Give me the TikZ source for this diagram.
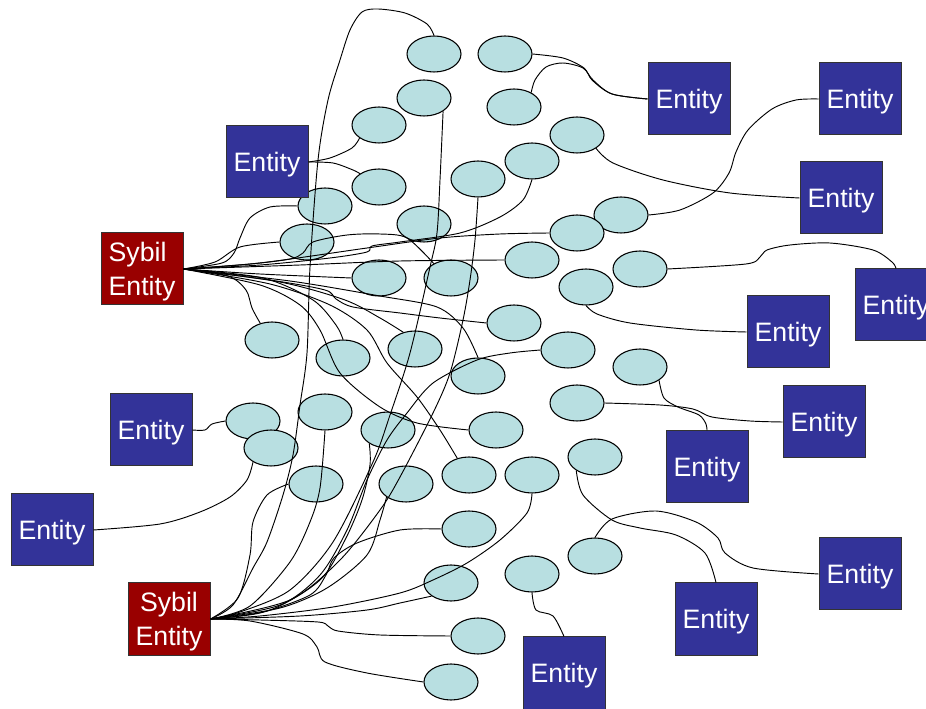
\documentclass[tikz,border=0pt]{standalone}
\usepackage{fontspec}
\setmainfont{Liberation Sans}
\usetikzlibrary{shapes.geometric}
\definecolor{entblue}{HTML}{333399}
\definecolor{sybred}{HTML}{990000}
\definecolor{peercol}{HTML}{B8DFE1}
\begin{document}
\begin{tikzpicture}[x=0.75pt,y=-0.75pt,
  entity/.style={draw=black!80, fill=entblue, text=white, minimum width=61.5pt,
    minimum height=54pt, inner sep=0pt, line width=0.75pt, text depth=0pt,
    font=\fontsize{20}{24}\selectfont},
  sybil/.style={entity, fill=sybred, align=left, font=\fontsize{20}{25}\selectfont},
  peer/.style={ellipse, draw=black, fill=peercol, minimum width=40.5pt,
    minimum height=27pt, inner sep=0pt, line width=0.8pt},
  link/.style={draw=black, line width=0.7pt}]
\useasboundingbox (0,0) rectangle (926,709);

% ordinary peers
\foreach \n/\x/\y in {
  1/434/54, 2/505/54, 3/424/98, 4/514/107, 5/379/125, 6/577/135, 7/532/161,
  8/379/187, 9/478/179, 10/325/206, 11/424/224, 12/621/215, 13/307/242,
  14/577/233, 15/532/260, 16/379/278, 17/451/278, 18/640/269, 19/586/287,
  20/272/340, 21/514/323, 22/343/358, 23/415/349, 24/568/350, 25/478/376,
  26/640/367, 27/325/412, 28/253/421, 29/388/430, 30/577/403, 31/496/430,
  32/271/448, 33/316/484, 34/406/484, 35/469/475, 36/532/475, 37/595/457,
  38/469/529, 39/451/583, 40/532/574, 41/595/556, 42/478/636, 43/451/682}
  \node[peer] (p\n) at (\x,\y) {};

% honest entities
\node[entity] (eA) at (689,99)  {Entity};
\node[entity] (eB) at (860,99)  {Entity};
\node[entity] (eC) at (841,198) {Entity};
\node[entity] (eD) at (896,305) {Entity};
\node[entity] (eE) at (788,332) {Entity};
\node[entity] (eF) at (267,162) {Entity};
\node[entity] (eG) at (151,430) {Entity};
\node[entity] (eH) at (52,530)  {Entity};
\node[entity] (eJ) at (824,422) {Entity};
\node[entity] (eK) at (707,467) {Entity};
\node[entity] (eL) at (860,574) {Entity};
\node[entity] (eM) at (716,619) {Entity};
\node[entity] (eN) at (564,673) {Entity};

% sybil entities
\node[sybil] (s1) at (142,269) {Sybil\\Entity};
\node[sybil, align=center] (s2) at (169,619) {Sybil\\Entity};

% honest entity links
\draw[link] plot[smooth] coordinates {(p2.east) (563,58) (584,68) (592,80) (612,94) (eA.west)};
\draw[link] plot[smooth] coordinates {(p4.40) (535,80) (546,67) (563,63) (583,68) (593,80) (612,94) (eA.west)};
\draw[link] plot[smooth] coordinates {(p12.east) (680,210) (713,193) (729,173) (736,152) (748,130) (772,109) (796,100) (eB.west)};
\draw[link] plot[smooth] coordinates {(p6.-35) (613,163) (663,180) (730,193) (eC.west)};
\draw[link] plot[smooth] coordinates {(p18.east) (746,264) (760,257) (767,250) (790,245) (830,243) (873,250) (892,262) (eD.north)};
\draw[link] plot[smooth] coordinates {(p19.south) (597,314) (630,323) (696,330) (eE.west)};
\draw[link] plot[smooth] coordinates {(eF.east) (330,158) (352,148) (p5.214)};
\draw[link] plot[smooth] coordinates {(eF.east) (333,163) (353,170) (p8.145)};
\draw[link] plot[smooth] coordinates {(eG.east) (205,430) (212,424) (p28.west)};
\draw[link] plot[smooth] coordinates {(p32.218) (247,480) (230,497) (200,512) (160,524) (eH.east)};
\draw[link] plot[smooth] coordinates {(p30.east) (660,405) (693,409) (712,417) (750,421) (eJ.west)};
\draw[link] plot[smooth] coordinates {(p26.-35) (664,398) (678,407) (699,415) (706,424) (eK.north)};
\draw[link] plot[smooth] coordinates {(p41.north) (612,519) (656,511) (696,522) (718,538) (725,553) (753,568) (eL.west)};
\draw[link] plot[smooth] coordinates {(p37.216) (583,495) (612,520) (640,528) (676,535) (705,553) (eM.north)};
\draw[link] plot[smooth] coordinates {(p40.south) (536,610) (553,616) (eN.north)};

% first sybil entity
\draw[link] plot[smooth] coordinates {(s1.east) (222,263) (234,253) (240,238) (250,218) (270,207) (p10.west)};
\draw[link] plot[smooth] coordinates {(s1.east) (215,262) (240,247) (p13.west)};
\draw[link] plot[smooth] coordinates {(s1.east) (260,265) (330,258) (367,252) (372,246) (400,242) (460,233) (500,217) (523,200) (p7.south)};
\draw[link] plot[smooth] coordinates {(s1.east) (260,263) (367,248) (440,238) (500,234) (p14.west)};
\draw[link] plot[smooth] coordinates {(s1.east) (250,264) (290,259) (303,253) (313,242) (347,235) (380,234) (407,238) (p17.140)};
\draw[link] plot[smooth] coordinates {(s1.east) (300,265) (400,261) (p15.west)};
\draw[link] plot[smooth] coordinates {(s1.east) (260,274) (p16.west)};
\draw[link] plot[smooth] coordinates {(s1.east) (270,280) (325,290) (336,299) (353,307) (400,313) (440,318) (p21.west)};
\draw[link] plot[smooth] coordinates {(s1.east) (290,281) (380,296) (437,307) (463,328) (p25.north)};
\draw[link] plot[smooth] coordinates {(s1.east) (228,276) (246,290) (252,308) (p20.125)};
\draw[link] plot[smooth] coordinates {(s1.east) (263,278) (313,300) (336,325) (p22.north)};
\draw[link] plot[smooth] coordinates {(s1.east) (280,282) (345,300) (380,318) (p23.125)};
\draw[link] plot[smooth] coordinates {(s1.east) (260,285) (300,305) (320,330) (340,373) (380,407) (417,423) (p31.west)};
\draw[link] plot[smooth] coordinates {(s1.east) (270,284) (330,305) (367,330) (387,363) (417,397) (440,430) (p35.125)};

% second sybil entity
\draw[link] plot[smooth] coordinates {(s2.east) (233,605) (253,568) (267,542) (283,495) (293,455) (300,405) (307,353) (310,267) (318,160) (328,100) (340,60) (350,30) (362,12) (378,9) (405,13) (427,24) (p1.north)};
\draw[link] plot[smooth] coordinates {(p3.-35) (440,180) (437,233) (430,267) (410,353) (390,415) (373,462) (333,542) (290,590) (240,612) (s2.east)};
\draw[link] plot[smooth] coordinates {(p9.south) (475,240) (470,280) (463,320) (450,373) (433,413) (400,477) (380,510) (340,560) (290,600) (s2.east)};
\draw[link] plot[smooth] coordinates {(p27.south) (320,488) (310,522) (290,562) (250,606) (s2.east)};
\draw[link] plot[smooth] coordinates {(p29.216) (370,465) (362,500) (345,540) (320,580) (270,610) (s2.east)};
\draw[link] plot[smooth] coordinates {(p33.west) (267,495) (253,522) (250,555) (238,598) (s2.east)};
\draw[link] plot[smooth] coordinates {(p34.214) (380,520) (367,555) (327,588) (280,608) (s2.east)};
\draw[link] plot[smooth] coordinates {(p24.west) (510,353) (477,360) (433,383) (407,413) (387,440) (367,480) (347,530) (320,575) (280,605) (s2.east)};
\draw[link] plot[smooth] coordinates {(p36.south) (527,513) (500,540) (467,563) (433,580) (400,593) (333,607) (260,616) (s2.east)};
\draw[link] plot[smooth] coordinates {(p38.west) (400,530) (357,543) (334,558) (326,575) (310,595) (260,613) (s2.east)};
\draw[link] plot[smooth] coordinates {(p39.214) (400,603) (367,610) (300,616) (s2.east)};
\draw[link] plot[smooth] coordinates {(p42.west) (380,635) (338,631) (328,626) (318,622) (260,620) (s2.east)};
\draw[link] plot[smooth] coordinates {(p43.west) (367,673) (325,662) (317,647) (303,634) (250,621) (s2.east)};
\end{tikzpicture}
\end{document}
